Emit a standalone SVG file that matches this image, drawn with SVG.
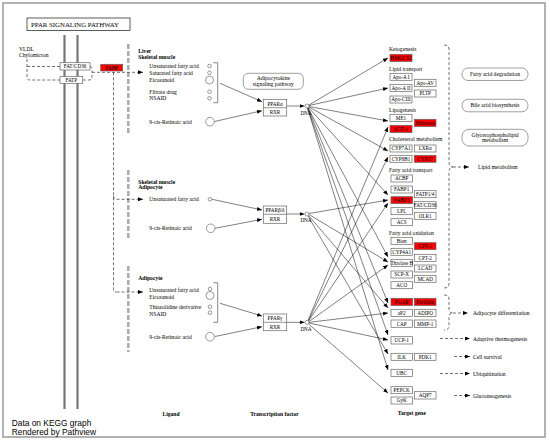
<svg xmlns="http://www.w3.org/2000/svg" width="550" height="441" viewBox="0 0 550 441">
<style>
text{font-family:'Liberation Serif','DejaVu Serif',serif;font-size:5.6px;fill:#000}
.g text,.bx{font-size:5.2px}
.c{text-anchor:middle}
.b{font-weight:bold}
.g rect{fill:#fff;stroke:#666;stroke-width:0.7}
.g rect.r{fill:#ff0000}
.rb{fill:#fff;stroke:#777;stroke-width:0.7}
.lig{fill:#fff;stroke:#555;stroke-width:0.6}
.sl{stroke:#000;stroke-width:0.5;fill:none;marker-end:url(#ah)}
.dl{stroke:#333;stroke-width:0.7;fill:none;stroke-dasharray:3,2}
.da{stroke:#333;stroke-width:0.7;fill:none;stroke-dasharray:3,2;marker-end:url(#ah)}
.sep{stroke:#aaa;stroke-width:2.5;stroke-dasharray:5,2;fill:none}
.mem{stroke:#777;stroke-width:2.2;fill:none}
.br{stroke:#555;stroke-width:0.7;fill:none}
.big{font-family:'Liberation Sans',Arial,sans-serif;font-size:8.4px}
</style>
<defs>
<marker id="ah" markerUnits="userSpaceOnUse" markerWidth="5" markerHeight="4" refX="5" refY="2" orient="auto">
<path d="M0,0 L5,2 L0,4 z" fill="#000"/>
</marker>
</defs>
<rect x="0" y="0" width="550" height="441" fill="#fff"/>
<rect x="3" y="3" width="542" height="434" fill="#fff" stroke="#999" stroke-width="1.5"/>

<g id="title">
<rect x="27" y="18" width="103" height="12.5" fill="#fff" stroke="#333" stroke-width="0.8"/>
<text x="31" y="27" font-size="6.8" textLength="88" lengthAdjust="spacingAndGlyphs">PPAR SIGNALING PATHWAY</text>
</g>

<g id="membrane">
<line class="mem" x1="64.5" y1="35" x2="64.5" y2="409"/>
<line class="mem" x1="77.5" y1="35" x2="77.5" y2="409"/>
</g>

<g id="separators">
<line class="sep" x1="128.3" y1="44" x2="128.3" y2="135"/>
<line class="sep" x1="128.3" y1="170" x2="128.3" y2="238"/>
<line class="sep" x1="128.3" y1="266" x2="128.3" y2="352"/>
</g>

<g id="vldl"><text x="19" y="51">VLDL</text><text x="19" y="56.5">Chylomicron</text></g>

<g id="connectors">
<path class="dl" d="M27,59 V77 Q27,80 30,80 H60"/>
<path class="dl" d="M27,66.5 H60"/>
<path class="dl" d="M90,66.5 Q92,66.5 92,69 V72"/>
<path class="dl" d="M83,80 H89 Q92,80 92,77 V72"/>
<path class="da" d="M92,72.3 H143"/>
<path class="dl" d="M113.5,72.3 V289 Q113.5,292 116.5,292"/>
<path class="da" d="M113.5,196 Q113.5,199.3 116.5,199.3 H143"/>
<path class="da" d="M116.5,292 H143"/>
<path class="sl" d="M220,83.3 L262,101.7"/>
<path class="sl" d="M214.5,121.5 L262,110.7"/>
<path class="sl" d="M287,106 L304.5,106"/>
<path class="sl" d="M212,199.3 L262,210"/>
<path class="sl" d="M215,228.3 L262,219.3"/>
<path class="sl" d="M287,214 L304.5,214"/>
<path class="sl" d="M220,303.3 L262,316"/>
<path class="sl" d="M215,336.5 L262,326.7"/>
<path class="sl" d="M287,322.3 L304.5,322.3"/>
<path class="sl" d="M309,105 L388,58"/>
<path class="sl" d="M309,105.5 L388,88"/>
<path class="sl" d="M309,106.5 L388,121"/>
<path class="sl" d="M309,107 L388,151"/>
<path class="sl" d="M308.5,107.5 L388,195"/>
<path class="sl" d="M308,108 L388,257"/>
<path class="sl" d="M308,108 L388,303"/>
<path class="sl" d="M307.5,108 L388,335"/>
<path class="sl" d="M307.5,108 L388,370"/>
<path class="sl" d="M309,213.5 L388,200"/>
<path class="sl" d="M309,214.5 L388,262"/>
<path class="sl" d="M308.5,215.5 L388,308"/>
<path class="sl" d="M308,216 L388,354"/>
<path class="sl" d="M308,320.5 L388,127"/>
<path class="sl" d="M308.5,320.5 L388,157"/>
<path class="sl" d="M308.5,321 L388,203"/>
<path class="sl" d="M309,321.5 L388,265"/>
<path class="sl" d="M309,322.3 L388,313"/>
<path class="sl" d="M309,323 L388,340"/>
<path class="sl" d="M308.5,324 L388,393"/>
<path class="dl" d="M444,45 Q449,45 449,50 V162 Q449,167 453,167 Q449,167 449,172 V283 Q449,288 444,288"/>
<path class="da" d="M453,167 H469"/>
<path class="dl" d="M444,295 Q449,295 449,299 V309 Q449,313 453,313 Q449,313 449,317 V326 Q449,330 444,330"/>
<path class="da" d="M453,313 H468"/>
<path class="da" d="M440,338.5 H470"/>
<path class="da" d="M454,356.5 H470"/>
<path class="da" d="M440,373.5 H470"/>
<path class="da" d="M454,395.5 H470"/>
</g>

<g id="n_fatcd36" class="g"><rect x="60" y="62.7" width="30" height="7.3"/><text class="c" x="75" y="68.2">FAT/CD36</text></g>
<g id="n_fatp" class="g"><rect x="60" y="76.3" width="22.7" height="7"/><text class="c" x="71.3" y="81.7">FATP</text></g>
<g id="n_fabp" class="g"><rect class="r" x="100.7" y="64.3" width="22" height="6.7"/><text class="c" x="111.7" y="69.5">FABP</text></g>

<g id="sec1">
<text class="b" x="138.3" y="53">Liver</text>
<text class="b" x="138.3" y="58.5">Skeletal muscle</text>
<text x="149.3" y="67.9">Unsaturated fatty acid</text>
<text x="149.3" y="74.6">Saturated fatty acid</text>
<text x="149.3" y="82.2">Eicosanoid</text>
<text x="149.3" y="93.6">Fibrate drug</text>
<text x="149.3" y="100.2">NSAID</text>
<text x="149.3" y="123.6">9-cis-Retinoic acid</text>
<circle class="lig" cx="209.5" cy="66" r="1.8"/>
<circle class="lig" cx="209.5" cy="72.7" r="1.8"/>
<circle class="lig" cx="209.5" cy="80" r="4"/>
<circle class="lig" cx="209.5" cy="91.7" r="1.8"/>
<circle class="lig" cx="209.5" cy="98.3" r="1.8"/>
<circle class="lig" cx="210" cy="121.7" r="4.3"/>
<path class="br" d="M213.3,62.7 H217.7 V102.7 H213.3"/>
</g>
<g id="adipocytokine"><rect class="rb" x="243.3" y="73.3" width="60" height="16" rx="5"/><text class="c" x="273.3" y="80.3">Adipocytokine</text><text class="c" x="273.3" y="86.3">signaling pathway</text></g>
<g id="ppara" class="g"><rect x="263.3" y="99.3" width="23.4" height="16.7"/><line x1="263.3" y1="107.7" x2="286.7" y2="107.7" stroke="#666" stroke-width="0.7"/><text class="c" x="275" y="105.5">PPARα</text><text class="c" x="275" y="113.8">RXR</text></g>
<g id="dna1"><circle class="lig" cx="307" cy="106" r="2"/><text class="c bx" x="306" y="114.5">DNA</text></g>

<g id="sec2">
<text class="b" x="138.3" y="184">Skeletal muscle</text>
<text class="b" x="138.3" y="189">Adipocyte</text>
<text x="149.3" y="201.2">Unsaturated fatty acid</text>
<text x="149.3" y="230">9-cis-Retinoic acid</text>
<circle class="lig" cx="210" cy="199.3" r="1.8"/>
<circle class="lig" cx="210.7" cy="228.3" r="4.3"/>
</g>
<g id="pparbd" class="g"><rect x="263.3" y="206" width="23.4" height="17.3"/><line x1="263.3" y1="214.3" x2="286.7" y2="214.3" stroke="#666" stroke-width="0.7"/><text class="c" x="275" y="212.3">PPARβ/δ</text><text class="c" x="275" y="220.8">RXR</text></g>
<g id="dna2"><circle class="lig" cx="307" cy="214" r="2"/><text class="c bx" x="306" y="222">DNA</text></g>

<g id="sec3">
<text class="b" x="138.3" y="280">Adipocyte</text>
<text x="149.3" y="291.9">Unsaturated fatty acid</text>
<text x="149.3" y="298.5">Eicosanoid</text>
<text x="149.3" y="309.2">Thiazolidine derivative</text>
<text x="149.3" y="315.8">NSAID</text>
<text x="149.3" y="338.6">9-cis-Retinoic acid</text>
<circle class="lig" cx="210" cy="289" r="1.8"/>
<circle class="lig" cx="210" cy="295.5" r="4"/>
<circle class="lig" cx="210" cy="306.7" r="1.8"/>
<circle class="lig" cx="210" cy="312.7" r="1.8"/>
<circle class="lig" cx="210" cy="336.7" r="4.3"/>
<path class="br" d="M213.3,282.7 H217.7 V322.3 H213.3"/>
</g>
<g id="pparg" class="g"><rect x="263.3" y="314" width="23.4" height="16.7"/><line x1="263.3" y1="322.3" x2="286.7" y2="322.3" stroke="#666" stroke-width="0.7"/><text class="c" x="275" y="320.3">PPARγ</text><text class="c" x="275" y="328.5">RXR</text></g>
<g id="dna3"><circle class="lig" cx="307" cy="322.3" r="2"/><text class="c bx" x="306" y="331">DNA</text></g>

<g id="targets" class="g">
<text x="389" y="50.7" style="font-size:5.6px">Ketogenesis</text>
<rect class="r" x="390" y="54.3" width="22" height="7.3"/><text class="c" x="401" y="59.8">HMGCS2</text>
<text x="389" y="70.9" style="font-size:5.6px">Lipid transport</text>
<rect x="390" y="73.3" width="22" height="7"/><text class="c" x="401" y="78.6">Apo-A I</text>
<rect x="390" y="84.3" width="22" height="7"/><text class="c" x="401" y="89.6">Apo-A II</text>
<rect x="390" y="96" width="22" height="7"/><text class="c" x="401" y="101.3">Apo-CIII</text>
<rect x="414.3" y="79.3" width="21.7" height="7"/><text class="c" x="425.2" y="84.6">Apo-AV</text>
<rect x="414.3" y="90" width="21.7" height="7"/><text class="c" x="425.2" y="95.3">PLTP</text>
<text x="389" y="111.7" style="font-size:5.6px">Lipogenesis</text>
<rect x="390" y="114.3" width="22" height="7.3"/><text class="c" x="401" y="119.8">ME1</text>
<rect class="r" x="390" y="125.3" width="22" height="7.3"/><text class="c" x="401" y="130.8">SCD-1</text>
<rect class="r" x="414.3" y="119.3" width="21.7" height="7.3"/><text class="c" x="425.2" y="124.8">Mthetase</text>
<text x="389" y="141.2" style="font-size:5.6px">Cholesterol metabolism</text>
<rect x="390" y="145" width="22" height="7"/><text class="c" x="401" y="150.3">CYP7A1</text>
<rect x="414.3" y="145" width="21.7" height="7"/><text class="c" x="425.2" y="150.3">LXRα</text>
<rect x="390" y="155.3" width="22" height="7"/><text class="c" x="401" y="160.6">CYP8B1</text>
<rect class="r" x="414.3" y="155.3" width="21.7" height="7"/><text class="c" x="425.2" y="160.6">CYP27</text>
<text x="389" y="171.7" style="font-size:5.6px">Fatty acid transport</text>
<rect x="391" y="175" width="21.5" height="7"/><text class="c" x="401.7" y="180.3">ACBP</text>
<rect x="391" y="186" width="21.5" height="7"/><text class="c" x="401.7" y="191.3">FABP1</text>
<rect class="r" x="391" y="196.7" width="21.5" height="7"/><text class="c" x="401.7" y="202">FABP3</text>
<rect x="391" y="207.7" width="21.5" height="7"/><text class="c" x="401.7" y="213">LPL</text>
<rect x="391" y="218.7" width="21.5" height="7"/><text class="c" x="401.7" y="224">ACS</text>
<rect x="414.3" y="190.7" width="21.7" height="7"/><text class="c" x="425.2" y="196">FATP1/4</text>
<rect x="414.3" y="201.7" width="21.7" height="7"/><text class="c" x="425.2" y="207">FAT/CD36</text>
<rect x="414.3" y="212.3" width="21.7" height="7"/><text class="c" x="425.2" y="217.6">OLR1</text>
<text x="389" y="234.5" style="font-size:5.6px">Fatty acid oxidation</text>
<rect x="391" y="237.3" width="21.5" height="7"/><text class="c" x="401.7" y="242.6">Bien</text>
<rect x="391" y="248.3" width="21.5" height="7"/><text class="c" x="401.7" y="253.6">CYP4A1</text>
<rect x="391" y="259.3" width="21.5" height="7"/><text class="c" x="401.7" y="264.6">Thiolase B</text>
<rect x="391" y="271" width="21.5" height="7"/><text class="c" x="401.7" y="276.3">SCP-X</text>
<rect x="391" y="281.7" width="21.5" height="7"/><text class="c" x="401.7" y="287">ACO</text>
<rect class="r" x="414.3" y="242.7" width="21.7" height="7"/><text class="c" x="425.2" y="248">CPT-1</text>
<rect x="414.3" y="254.3" width="21.7" height="7"/><text class="c" x="425.2" y="259.6">CPT-2</text>
<rect x="414.3" y="265" width="21.7" height="7"/><text class="c" x="425.2" y="270.3">LCAD</text>
<rect x="414.3" y="275.3" width="21.7" height="7"/><text class="c" x="425.2" y="280.6">MCAD</text>
<rect class="r" x="391" y="298.3" width="21.5" height="7.3"/><text class="c" x="401.7" y="303.8">PGAR</text>
<rect class="r" x="414.3" y="298.3" width="21.7" height="7.3"/><text class="c" x="425.2" y="303.8">Perilipin</text>
<rect x="391" y="309.3" width="21.5" height="7.3"/><text class="c" x="401.7" y="314.8">aP2</text>
<rect x="414.3" y="309.3" width="21.7" height="7.3"/><text class="c" x="425.2" y="314.8">ADIPO</text>
<rect x="391" y="320" width="21.5" height="7.3"/><text class="c" x="401.7" y="325.5">CAP</text>
<rect x="414.3" y="320" width="21.7" height="7.3"/><text class="c" x="425.2" y="325.5">MMP-1</text>
<rect x="391" y="336.7" width="21.5" height="7.3"/><text class="c" x="401.7" y="342.2">UCP-1</text>
<rect x="391" y="353.3" width="21.5" height="7"/><text class="c" x="401.7" y="358.6">ILK</text>
<rect x="414.3" y="353.3" width="21.7" height="7"/><text class="c" x="425.2" y="358.6">PDK1</text>
<rect x="391" y="369.3" width="21.5" height="7.3"/><text class="c" x="401.7" y="374.8">UBC</text>
<rect x="391" y="386.7" width="21.5" height="7"/><text class="c" x="401.7" y="392">PEPCK</text>
<rect x="391" y="397" width="21.5" height="7"/><text class="c" x="401.7" y="402.3">GyK</text>
<rect x="414.3" y="391.7" width="21.7" height="7.3"/><text class="c" x="425.2" y="397.2">AQP7</text>
</g>

<g id="pathways">
<rect class="rb" x="462" y="68" width="66" height="12.5" rx="6"/><text class="c" x="495" y="76">Fatty acid degradation</text>
<rect class="rb" x="462" y="99.3" width="66" height="12.5" rx="6"/><text class="c" x="495" y="107.3">Bile acid biosynthesis</text>
<rect class="rb" x="462" y="129.3" width="66" height="16.7" rx="7"/><text class="c" x="495" y="136.5">Glycerophospholipid</text><text class="c" x="495" y="142.2">metabolism</text>
</g>

<g id="outcomes">
<text x="478" y="169">Lipid metabolism</text>
<text x="473" y="315">Adipocyte differentiation</text>
<text x="473" y="340.5">Adaptive thermogenesis</text>
<text x="473" y="358.5">Cell survival</text>
<text x="473" y="375.5">Ubiquitination</text>
<text x="473" y="397.5">Gluconeogenesis</text>
</g>

<g id="labels">
<text class="c b" x="171" y="415.5">Ligand</text>
<text class="c b" x="274.5" y="415.5">Transcription factor</text>
<text class="c b" x="411.7" y="415">Target gene</text>
<text class="big" x="11.7" y="426.3">Data on KEGG graph</text>
<text class="big" x="11.7" y="435">Rendered by Pathview</text>
</g>
</svg>
